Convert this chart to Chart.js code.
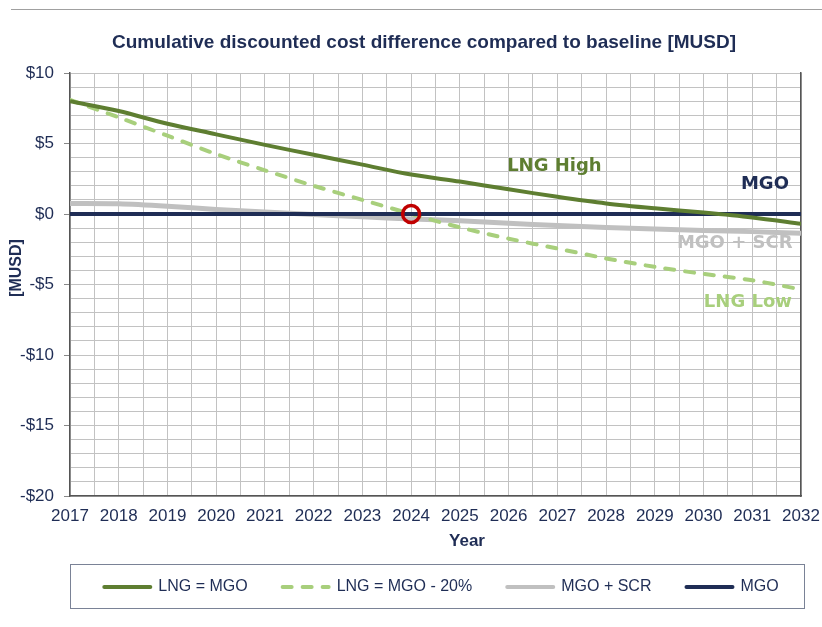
<!DOCTYPE html>
<html>
<head>
<meta charset="utf-8">
<script src="https://cdn.jsdelivr.net/npm/chart.js@4"></script>
<style>
  html,body{margin:0;padding:0;background:#fff;}
  #wrap{position:relative;width:822px;height:627px;}
  #topline{position:absolute;left:11px;right:0;top:9px;height:1px;background:#a0a0a0;}
</style>
</head>
<body>
<div id="wrap">
  <div id="topline"></div>
  <canvas id="c" width="822" height="627"></canvas>
</div>
<script>
// values, one per year
const years = [2017,2018,2019,2020,2021,2022,2023,2024,2025,2026,2027,2028,2029,2030,2031,2032];
const lngHigh = [8.0,7.3,6.4,5.65,4.9,4.2,3.5,2.8,2.3,1.75,1.22,0.75,0.4,0.1,-0.25,-0.7];
const lngLow  = [8.1,6.85,5.55,4.25,3.1,2.0,1.0,0.0,-0.95,-1.75,-2.45,-3.15,-3.75,-4.25,-4.7,-5.35];
const mgoScr  = [0.75,0.72,0.55,0.32,0.15,-0.03,-0.2,-0.35,-0.48,-0.65,-0.82,-0.95,-1.06,-1.17,-1.25,-1.37];
const mgo     = [0,0,0,0,0,0,0,0,0,0,0,0,0,0,0,0];
const crossing = [{x:2024, y:0}];

const NAVY = '#1f2d55', DKGREEN = '#5e7e31', LTGREEN = '#a8cf7c', GREY = '#c0c0c0', RED = '#c00000';
const FONT = 'Arial, "Liberation Sans", sans-serif';
const pts = (arr) => arr.map((v,i)=>({x:years[i], y:v}));

// in-chart series labels, in data coordinates
const seriesLabels = [
  {text:'LNG High', x:2026.94, y:3.35, color:DKGREEN},
  {text:'MGO', x:2031.26, y:2.07, color:NAVY},
  {text:'MGO + SCR', x:2030.64, y:-2.1, color:GREY},
  {text:'LNG Low', x:2030.91, y:-6.28, color:LTGREEN},
];

const textPlugin = {
  id:'texts',
  afterLayout(chart){
    // legend sits a bit right of centre in the reference
    if(chart.legend){ chart.legend.left += 41; chart.legend.right += 41; }
  },
  afterDatasetsDraw(chart){
    const {ctx, scales:{x,y}} = chart;
    ctx.save();
    ctx.font = 'bold 18px "DejaVu Sans", Verdana, sans-serif';
    ctx.textAlign = 'center'; ctx.textBaseline = 'middle';
    seriesLabels.forEach(l=>{ ctx.fillStyle = l.color; ctx.fillText(l.text, x.getPixelForValue(l.x), y.getPixelForValue(l.y)); });
    ctx.restore();
  },
  afterDraw(chart){
    const ctx = chart.ctx;
    ctx.save();
    ctx.fillStyle = NAVY; ctx.textAlign = 'center'; ctx.textBaseline = 'middle';
    ctx.font = 'bold 19px ' + FONT;
    ctx.fillText('Cumulative discounted cost difference compared to baseline [MUSD]', 424, 43);
    ctx.font = 'bold 17px ' + FONT;
    ctx.fillText('Year', 467, 541);
    ctx.save(); ctx.translate(17, 268); ctx.rotate(-Math.PI/2);
    ctx.font = 'bold 16px ' + FONT; ctx.fillText('[MUSD]', 0, 0);
    ctx.restore();
    // box round the legend
    const lg = chart.legend;
    if(lg && lg.legendHitBoxes.length){
      const hb = lg.legendHitBoxes;
      const left = Math.min(...hb.map(b=>b.left)) - 34;
      const right = Math.max(...hb.map(b=>b.left+b.width)) + 26;
      const cy = hb[0].top + hb[0].height/2;
      ctx.strokeStyle = '#7a8296'; ctx.lineWidth = 1;
      ctx.strokeRect(Math.round(left)+0.5, Math.round(cy-23)+0.5, Math.round(right-left), 44);
    }
    ctx.restore();
  }
};

new Chart(document.getElementById('c'), {
  type:'line',
  data:{
    datasets:[
      {label:'LNG = MGO', data:pts(lngHigh), borderColor:DKGREEN, backgroundColor:DKGREEN, borderWidth:4, pointRadius:0, tension:0.3, order:1},
      {label:'LNG = MGO - 20%', data:pts(lngLow), borderColor:LTGREEN, backgroundColor:LTGREEN, borderWidth:4, borderDash:[9,11], borderCapStyle:'round', pointRadius:0, tension:0.3, order:3},
      {label:'MGO + SCR', data:pts(mgoScr), borderColor:GREY, backgroundColor:GREY, borderWidth:5, pointRadius:0, tension:0.3, order:4},
      {label:'MGO', data:pts(mgo), borderColor:NAVY, backgroundColor:NAVY, borderWidth:4, pointRadius:0, order:2},
      {label:'crossing', data:crossing, showLine:false, pointRadius:8.5, pointBorderWidth:3.5, pointBorderColor:RED, pointBackgroundColor:'rgba(0,0,0,0)', order:0}
    ]
  },
  options:{
    responsive:false, animation:false,
    layout:{padding:{left:0, right:21, top:73, bottom:22}},
    plugins:{
      title:{display:false},
      legend:{position:'bottom',
        labels:{
          usePointStyle:true, pointStyle:'line', pointStyleWidth:46, boxHeight:4,
          color:NAVY, padding:35, font:{family:FONT, size:16},
          generateLabels:(chart)=>{
            const items = Chart.defaults.plugins.legend.labels.generateLabels(chart);
            return items.filter(it=>it.text!=='crossing').map(it=>{
              const ds = chart.data.datasets[it.datasetIndex];
              return {...it, lineDash:ds.borderDash||[], lineWidth:4, strokeStyle:ds.borderColor, lineCap:'round'};
            }).sort((a,b)=>a.datasetIndex-b.datasetIndex);
          }
        }},
      tooltip:{enabled:false}
    },
    scales:{
      x:{type:'linear', min:2017, max:2032,
        ticks:{stepSize:0.5, autoSkip:false, maxRotation:0, color:NAVY, padding:0,
          font:{family:FONT, size:17},
          callback:(v)=> Number.isInteger(v) ? String(v) : ''},
        grid:{color:'#c2c2c2', drawTicks:true, tickLength:10, tickColor:'rgba(0,0,0,0)'},
        border:{color:'#555', width:1.5},
        afterFit:(s)=>{ s.height = 48; }
      },
      y:{min:-20, max:10,
        ticks:{stepSize:1, autoSkip:false, color:NAVY, padding:10,
          font:{family:FONT, size:17},
          callback:(v)=> v%5===0 ? (v<0 ? '-$'+(-v) : '$'+v) : ''},
        grid:{color:'#c2c2c2', tickLength:6, tickColor:(c)=> c.tick && c.tick.value%5===0 ? '#888' : 'rgba(0,0,0,0)'},
        border:{color:'#555', width:1.5},
        afterFit:(s)=>{ s.width = 70; }
      },
      y2:{position:'right', min:-20, max:10, ticks:{display:false}, grid:{display:false, drawTicks:false}, border:{color:'#555', width:1.5}, afterFit:(s)=>{ s.width = 0; }}
    }
  },
  plugins:[textPlugin]
});
</script>
</body>
</html>
